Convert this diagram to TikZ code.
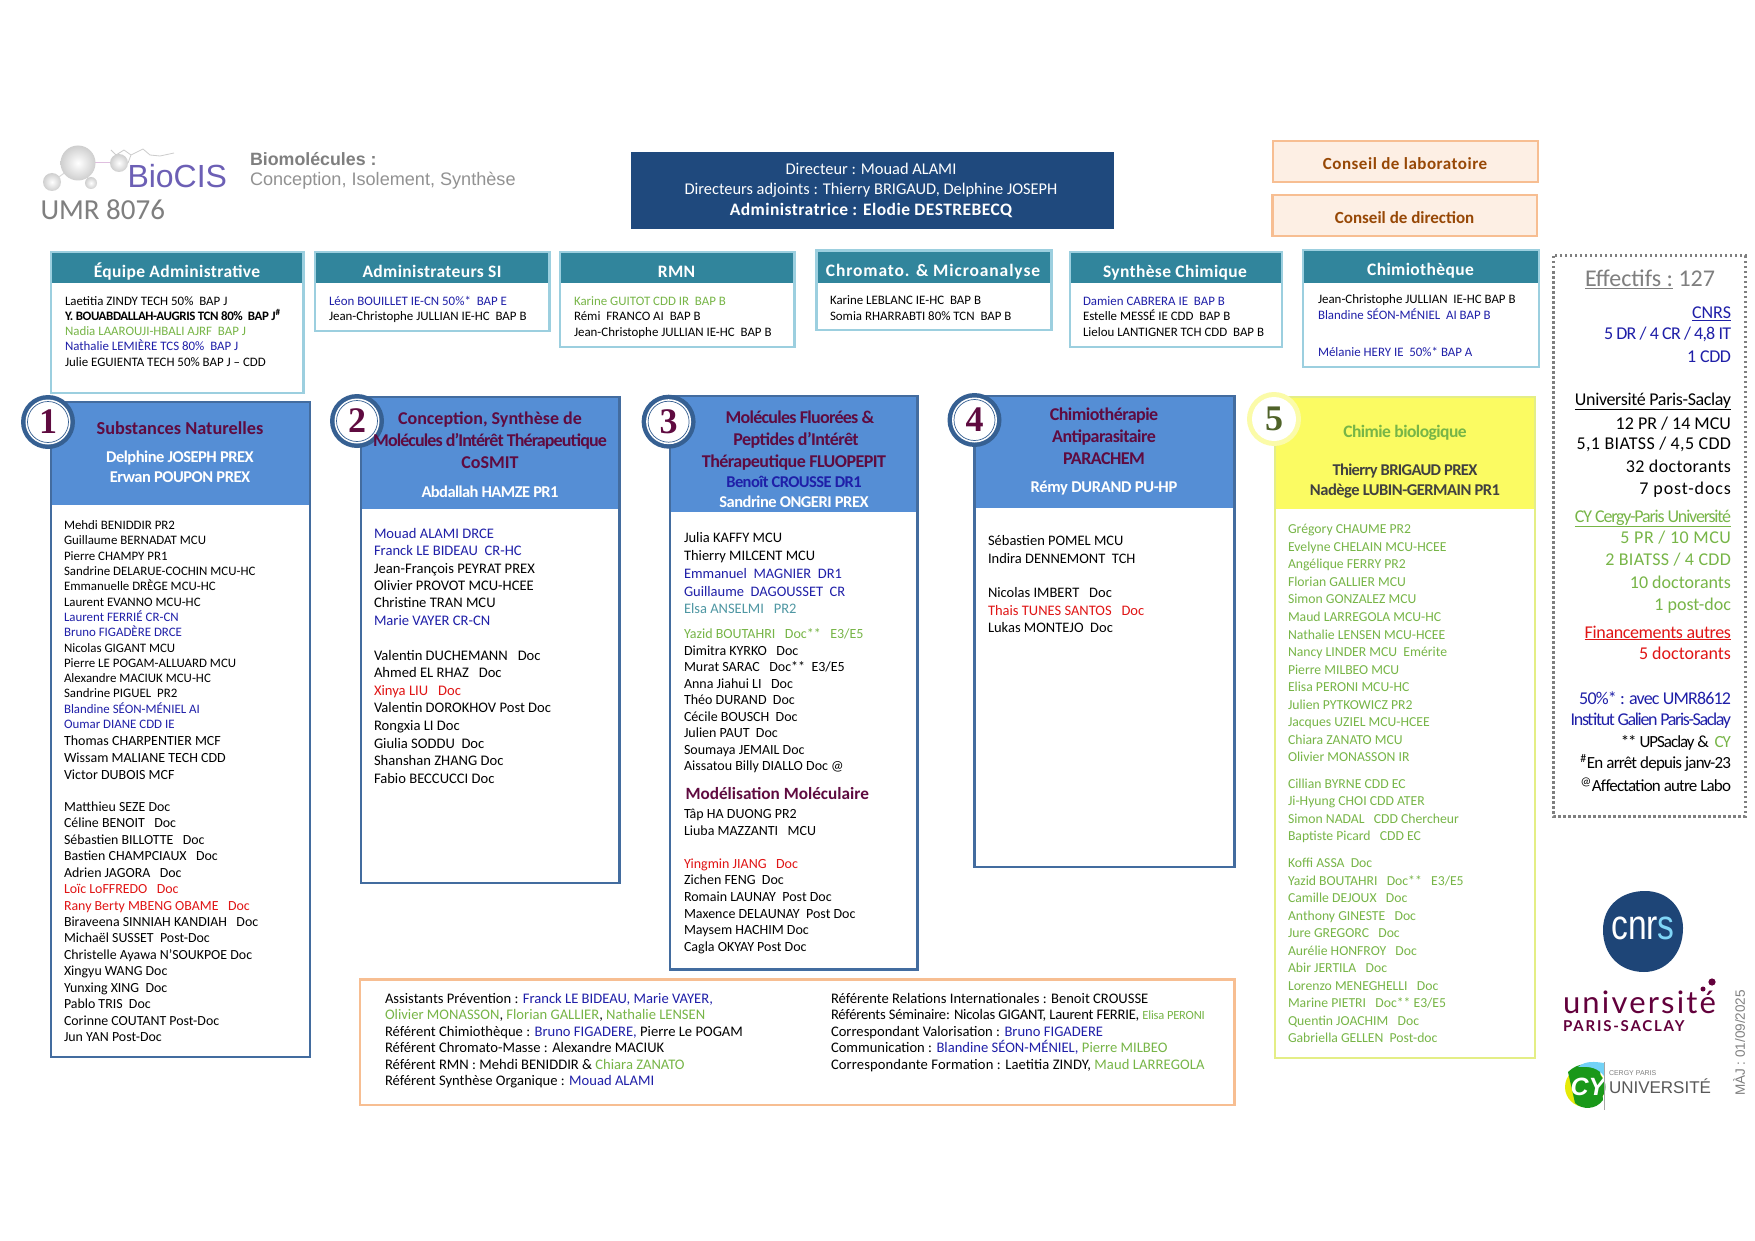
\documentclass[tikz,border=0pt]{standalone}
\usepackage{fontspec}
\setmainfont{Carlito}
\newfontfamily\numfont{Liberation Serif}
\newfontfamily\arialf{Liberation Sans}
\newfontfamily\latof{Lato}
\definecolor{cb}{HTML}{1F1FA8}
\definecolor{cg}{HTML}{77B547}
\definecolor{cr}{HTML}{E01515}
\definecolor{ct}{HTML}{4F97A3}
\definecolor{teal}{HTML}{31859C}
\definecolor{lteal}{HTML}{9CCFDF}
\definecolor{navy}{HTML}{1F497D}
\definecolor{orl}{HTML}{F7BE92}
\definecolor{orf}{HTML}{FDEFE4}
\definecolor{orb}{HTML}{974806}
\definecolor{hblue}{HTML}{558ED5}
\definecolor{bblue}{HTML}{436C9F}
\definecolor{ring}{HTML}{366092}
\definecolor{maroon}{HTML}{5F0B40}
\definecolor{yel}{HTML}{FBFB62}
\definecolor{yelb}{HTML}{E4EE86}
\definecolor{yelr}{HTML}{FBFBA8}
\definecolor{gr}{HTML}{7F7F7F}
\definecolor{ups}{HTML}{63003C}
\definecolor{bioc}{HTML}{6C5FB5}
\definecolor{five}{HTML}{4F6228}
\newcommand\fs[1]{\fontsize{#1}{#1}\selectfont}
\newcommand\ls[1]{\addfontfeatures{LetterSpace=#1}}
\newcommand\cb[1]{\textcolor{cb}{#1}}
\newcommand\cg[1]{\textcolor{cg}{#1}}
\newcommand\cre[1]{\textcolor{cr}{#1}}
\newcounter{rowc}
\tikzset{x=1pt,y=-1pt,
 txt/.style={inner sep=0pt,outer sep=0pt,anchor=base west},
 txr/.style={inner sep=0pt,outer sep=0pt,anchor=base east},
 txc/.style={inner sep=0pt,outer sep=0pt,anchor=base},
 minibox/.style={draw=lteal,line width=2.6pt,fill=white},
 conseil/.style={draw=orl,line width=2.6pt,fill=orf},
 teambox/.style={draw=bblue,line width=2.6pt,fill=white},
 yelbox/.style={draw=yelb,line width=2.6pt,fill=white},
}
% x, y of first row centre, step, size, rows
\newcommand\rows[5]{\foreach \t [count=\i from 0] in {#5}{%
  \pgfmathsetmacro\yy{#2+#3*\i+0.39*#4}\stepcounter{rowc}%
  \node[txt,name=row\arabic{rowc},font=\fs{#4}] at (#1,\yy) {\t};}}
\newcommand\rrow[4][black]{\pgfmathsetmacro\yy{#2+0.35*#3}\stepcounter{rowc}%
  \node[txr,name=row\arabic{rowc},font=\fs{#3},text=#1] at (1731,\yy) {#4};}
\newcommand\crow[5][black]{\pgfmathsetmacro\yy{#3+0.33*#4}\stepcounter{rowc}%
  \node[txc,name=row\arabic{rowc},font=\fs{#4}\bfseries,text=#1] at (#2,\yy) {#5};}
% mini box: x1 y1 x2 y2 headerbottom, title, title cx, title cy
\newcommand\mini[8]{\draw[minibox] (#1,#2) rectangle (#3,#4);
  \fill[teal] (#1+1.3,#2+1.3) rectangle (#3-1.3,#5);
  \pgfmathsetmacro\yy{#8+0.39*17}\stepcounter{rowc}%
  \node[txc,name=row\arabic{rowc},text=white,font=\fs{17.5}\bfseries\ls{2}] at (#7,\yy) {#6};}
% team: x1 y1 x2 y2 headerbottom cx cy digit
\newcommand\team[8]{\draw[teambox] (#1,#2) rectangle (#3,#4);
  \fill[hblue] (#1+1.3,#2+1.3) rectangle (#3-1.3,#5);
  \fill[ring] (#6,#7) circle (27);
  \fill[white] (#6,#7) circle (22.5);
  \draw[ring,line width=.7pt] (#6,#7) circle (20.5);
  \stepcounter{rowc}\node[inner sep=0pt,name=row\arabic{rowc},text=maroon,font=\fs{36}\numfont\bfseries] at (#6,#7) {#8};}
\begin{document}
\begin{tikzpicture}
\useasboundingbox (0,0) rectangle (1755,1241);
\fill[white] (0,0) rectangle (1755,1241);
% ---- BioCIS logo
\draw[gray!30,line width=1pt] (52,182) -- (78,163) -- (91,183);
\draw[violet!25,line width=1pt] (78,163) -- (119,163);
\draw[gray!40,line width=.8pt] (111,150) -- (116,155) -- (124,150) -- (131,155) -- (128,163) (131,155) -- (143,149) -- (150,155) -- (160,156) -- (174,153);
\shade[inner color=white,outer color=gray!38] (78,163) circle (17.5);
\shade[inner color=white,outer color=gray!38] (52,182) circle (9);
\shade[inner color=white,outer color=gray!38] (91,183) circle (6);
\shade[inner color=white,outer color=gray!38] (119,163) circle (9);
\node[txt,name=biocis,font=\fs{32}\arialf,text=bioc] at (127.5,188) {BioCIS};
\node[txt,name=biomol,font=\fs{17.8}\arialf\bfseries,text=gr] at (250,166) {Biomolécules :};
\node[txt,name=concep,font=\fs{18.1}\arialf,text=gr!85] at (250,186) {Conception, Isolement, Synthèse};
\node[txt,name=umr,font=\fs{29},text=gr] at (40.5,220) {UMR 8076};
% ---- Direction
\fill[navy] (631,152) rectangle (1114,229);
\crow[white]{871}{169}{16.4}{\mdseries Directeur : Mouad ALAMI}
\crow[white]{871}{189}{16.4}{\mdseries Directeurs adjoints : Thierry BRIGAUD, Delphine JOSEPH}
\crow[white]{871}{209.5}{17.5}{\ls{2.5}Administratrice : Elodie DESTREBECQ}
\draw[conseil] (1273,141) rectangle (1538,182);
\draw[conseil] (1272.5,195) rectangle (1537,236);
\crow[orb]{1405}{164}{17}{\ls{3}Conseil de laboratoire}
\crow[orb]{1404.6}{218}{17}{Conseil de direction}
% ---- Mini boxes
\mini{51}{252}{303.5}{393}{283}{Équipe Administrative}{177}{270.5}
\rows{65}{300}{15.25}{12.9}{Laetitia ZINDY TECH 50\%~~BAP J,
 \textbf{\ls{-3}Y. BOUABDALLAH-AUGRIS TCN 80\%~~BAP J\textsuperscript{\#}},
 \cg{Nadia LAAROUJI-HBALI AJRF~~BAP J},
 \cb{Nathalie LEMIÈRE TCS 80\%~~BAP J},
 Julie EGUIENTA TECH 50\% BAP J – CDD}
\mini{315}{252}{549.5}{331}{283}{Administrateurs SI}{432}{270.5}
\rows{329}{300}{15.3}{12.9}{\cb{Léon BOUILLET IE-CN 50\%*~~BAP E},
 Jean-Christophe JULLIAN IE-HC~~BAP B}
\mini{560}{252}{794.5}{347}{283}{RMN}{676.5}{270.5}
\rows{574}{300}{15.5}{12.9}{\cg{Karine GUITOT CDD IR~~BAP B},
 Rémi~~FRANCO AI~~BAP B,
 Jean-Christophe JULLIAN IE-HC~~BAP B}
\mini{816.5}{250.5}{1051.5}{330}{283}{\ls{5}Chromato. \& Microanalyse}{933}{269.5}
\rows{830}{299}{16}{12.9}{Karine LEBLANC IE-HC~~BAP B,
 Somia RHARRABTI 80\% TCN~~BAP B}
\mini{1070}{252}{1282}{347}{283}{Synthèse Chimique}{1175}{270.5}
\rows{1083}{300}{15.5}{12.9}{\cb{Damien CABRERA IE~~BAP B},
 Estelle MESSÉ IE CDD~~BAP B,
 Lielou LANTIGNER TCH CDD~~BAP B}
\mini{1303}{250}{1539}{367}{283}{Chimiothèque}{1420.5}{268.5}
\rows{1318}{298}{16}{12.9}{Jean-Christophe JULLIAN~~IE-HC BAP B,
 \cb{Blandine SÉON-MÉNIEL~~AI BAP B}}
\rows{1318}{351}{16}{12.9}{\cb{Mélanie HERY IE~~50\%* BAP A}}
% ---- Team 1
\team{51}{402}{310}{1057}{505}{48}{422}{1}
\crow[maroon]{180}{428.5}{18.3}{Substances Naturelles}
\crow[white]{180}{457}{16.5}{\ls{-3}Delphine JOSEPH PREX}
\crow[white]{180}{477}{16.5}{\ls{-3}Erwan POUPON PREX}
\rows{64}{524.5}{15.31}{12.9}{Mehdi BENIDDIR PR2,Guillaume BERNADAT MCU,Pierre CHAMPY PR1,Sandrine DELARUE-COCHIN MCU-HC,Emmanuelle DRÈGE MCU-HC,Laurent EVANNO MCU-HC,\cb{Laurent FERRIÉ CR-CN},\cb{Bruno FIGADÈRE DRCE},Nicolas GIGANT MCU,Pierre LE POGAM-ALLUARD MCU,Alexandre MACIUK MCU-HC,Sandrine PIGUEL~~PR2,\cb{Blandine SÉON-MÉNIEL AI},\cb{Oumar DIANE CDD IE}}
\rows{64}{740.2}{16.7}{14}{Thomas CHARPENTIER MCF,Wissam MALIANE TECH CDD,Victor DUBOIS MCF}
\rows{64}{806}{16.43}{13.9}{Matthieu SEZE Doc,Céline BENOIT~~~Doc,Sébastien BILLOTTE~~~Doc,Bastien CHAMPCIAUX~~~Doc,Adrien JAGORA~~~Doc,\cre{Loïc LoFFREDO~~~Doc},\cre{Rany Berty MBENG OBAME~~~Doc},Biraveena SINNIAH KANDIAH~~~Doc,Michaël SUSSET~~Post-Doc,Christelle Ayawa N'SOUKPOE Doc,Xingyu WANG Doc,Yunxing XING~~Doc,Pablo TRIS~~Doc,Corinne COUTANT Post-Doc,Jun YAN Post-Doc}
% ---- Team 2
\team{361}{397}{619.5}{883}{509}{357}{421}{2}
\crow[maroon]{490}{419}{18}{Conception, Synthèse de}
\crow[maroon]{490}{440.7}{18}{\ls{-5}Molécules d’Intérêt Thérapeutique}
\crow[maroon]{490}{462.7}{18}{CoSMIT}
\crow[white]{490}{491.7}{16.5}{\ls{-3.5}Abdallah HAMZE PR1}
\rows{374}{532.7}{17.33}{14.6}{\cb{Mouad ALAMI DRCE},\cb{Franck LE BIDEAU~~CR-HC},Jean-François PEYRAT PREX,Olivier PROVOT MCU-HCEE,Christine TRAN MCU,\cb{Marie VAYER CR-CN}}
\rows{374}{654.3}{17.6}{14.6}{Valentin DUCHEMANN~~~Doc,Ahmed EL RHAZ~~~Doc,\cre{Xinya LIU~~~Doc},Valentin DOROKHOV Post Doc,Rongxia LI Doc,Giulia SODDU~~Doc,Shanshan ZHANG Doc,Fabio BECCUCCI Doc}
% ---- Team 3
\team{670}{396}{917.5}{969.5}{511.5}{668.6}{421.7}{3}
\crow[maroon]{800}{417.7}{18}{\ls{-4}Molécules Fluorées \&}
\crow[maroon]{796}{439.7}{18}{\ls{-3}Peptides d’Intérêt}
\crow[maroon]{794}{461.7}{18}{\ls{-3}Thérapeutique FLUOPEPIT}
\crow[cb]{794}{481.7}{16.5}{\ls{-3.5}Benoît CROUSSE DR1}
\crow[white]{794}{501.7}{16.5}{\ls{-3}Sandrine ONGERI PREX}
\rows{684}{537.3}{17.75}{14.5}{Julia KAFFY MCU,Thierry MILCENT MCU,\cb{Emmanuel~~MAGNIER~~DR1},\cb{Guillaume~~DAGOUSSET~~CR},\textcolor{ct}{Elsa ANSELMI~~~PR2}}
\rows{684}{633.3}{16.5}{14}{\cg{Yazid BOUTAHRI~~~Doc**~~~E3/E5},Dimitra KYRKO~~~Doc,Murat SARAC~~~Doc**~~E3/E5,Anna Jiahui LI~~~Doc,Théo DURAND~~Doc,Cécile BOUSCH~~Doc,Julien PAUT~~Doc,Soumaya JEMAIL Doc,Aissatou Billy DIALLO Doc @}
\stepcounter{rowc}\node[txt,name=modmol,font=\fs{17.2}\bfseries,text=maroon] at (685.5,799) {Modélisation Moléculaire};
\rows{684}{813.5}{16.7}{14}{Tâp HA DUONG PR2,Liuba MAZZANTI~~~MCU}
\rows{684}{862.7}{16.7}{14}{\cre{Yingmin JIANG~~~Doc},Zichen FENG~~Doc,Romain LAUNAY~~Post Doc,Maxence DELAUNAY~~Post Doc,Maysem HACHIM Doc,Cagla OKYAY Post Doc}
% ---- Team 4
\team{974.5}{396}{1234.5}{867}{508}{974.5}{420}{4}
\crow[maroon]{1104}{414.7}{18}{\ls{-3}Chimiothérapie}
\crow[maroon]{1104}{437}{18}{\ls{-3}Antiparasitaire}
\crow[maroon]{1104}{458.7}{18}{\ls{-3}PARACHEM}
\crow[white]{1104}{486.7}{16.5}{\ls{-2}Rémy DURAND PU-HP}
\rows{988}{540.3}{17.4}{14.5}{Sébastien POMEL MCU,Indira DENNEMONT~~TCH}
\rows{988}{592.3}{17.5}{14.5}{Nicolas IMBERT~~~Doc,\cre{Thais TUNES SANTOS~~~Doc},Lukas MONTEJO~~Doc}
% ---- Team 5
\draw[yelbox] (1275,397) rectangle (1535,1058);
\fill[yel] (1276.3,398.3) rectangle (1533.7,509);
\fill[yelr] (1274,419) circle (27);
\fill[white] (1274,419) circle (22);
\node[inner sep=0pt,name=digit5,text=five,font=\fs{36}\numfont\bfseries] at (1274,419) {5};
\crow[cg]{1405}{431.7}{17.5}{\ls{-3}Chimie biologique}
\crow[black!75]{1405}{470.3}{16.5}{\ls{-4}Thierry BRIGAUD PREX}
\crow[black!75]{1405}{490.3}{16.5}{\ls{-3}Nadège LUBIN-GERMAIN PR1}
\begin{scope}[text=cg]
\rows{1288}{528.3}{17.56}{13.7}{Grégory CHAUME PR2,Evelyne CHELAIN MCU-HCEE,Angélique FERRY PR2,Florian GALLIER MCU,Simon GONZALEZ MCU,Maud LARREGOLA MCU-HC,Nathalie LENSEN MCU-HCEE,Nancy LINDER MCU~~Emérite,Pierre MILBEO MCU,Elisa PERONI MCU-HC,Julien PYTKOWICZ PR2,Jacques UZIEL MCU-HCEE,Chiara ZANATO MCU,Olivier MONASSON IR}
\rows{1288}{783.3}{17.3}{13.7}{Cillian BYRNE CDD EC,Ji-Hyung CHOI CDD ATER,Simon NADAL~~~CDD Chercheur,Baptiste Picard~~~CDD EC}
\rows{1288}{862.3}{17.5}{13.7}{Koffi ASSA~~Doc,Yazid BOUTAHRI~~~Doc**~~~E3/E5,Camille DEJOUX~~~Doc,Anthony GINESTE~~~Doc,Jure GREGORC~~~Doc,Aurélie HONFROY~~~Doc,Abir JERTILA~~~Doc,Lorenzo MENEGHELLI~~~Doc,Marine PIETRI~~~Doc** E3/E5,Quentin JOACHIM~~~Doc,Gabriella GELLEN~~Post-doc}
\end{scope}
% ---- Bottom box
\draw[draw=orl,line width=2.6pt] (360,979.5) rectangle (1234.5,1105);
\rows{385}{997.7}{16.4}{14.6}{Assistants Prévention : \cb{Franck LE BIDEAU, Marie VAYER,},\cg{Olivier MONASSON}{, }\cg{Florian GALLIER}{, }\cg{Nathalie LENSEN},Référent Chimiothèque : \cb{Bruno FIGADERE,} Pierre Le POGAM,Référent Chromato-Masse : Alexandre MACIUK,Référent RMN : Mehdi BENIDDIR \& \cg{Chiara ZANATO},Référent Synthèse Organique : \cb{Mouad ALAMI}}
\rows{831}{997.7}{16.4}{14.6}{Référente Relations Internationales : Benoit CROUSSE,\ls{-1.5}Référents Séminaire: Nicolas GIGANT{, }Laurent FERRIE{, }\cg{\fs{12.5}Elisa PERONI},Correspondant Valorisation : \cb{Bruno FIGADERE},Communication : \cb{Blandine SÉON-MÉNIEL,} \cg{Pierre MILBEO},\ls{.7}Correspondante Formation : Laetitia ZINDY{, }\cg{Maud LARREGOLA}}
% ---- Effectifs
\draw[gr,line width=3pt,dash pattern=on 2.5pt off 2.5pt] (1553,256) rectangle (1745,816);
\stepcounter{rowc}\node[txt,name=effectifs,font=\fs{24},text=gr] at (1585,287) {\underline{Effectifs :} 127};
\rrow[cb]{312}{18}{\underline{CNRS}}
\rrow[cb]{333}{18}{\ls{-4.6}5 DR / 4 CR / 4,8 IT}
\rrow[cb]{356}{18}{\ls{-2}1 CDD}
\rrow{399}{18}{\ls{-2}\underline{Université Paris-Saclay}}
\rrow{423}{18}{12 PR / 14 MCU}
\rrow{443}{18}{\ls{2}5,1 BIATSS / 4,5 CDD}
\rrow{465.7}{18}{\ls{2}32 doctorants}
\rrow{487.7}{18}{\ls{5}7 post-docs}
\rrow[cg]{515.7}{18}{\ls{-6.5}\underline{CY Cergy-Paris Université}}
\rrow[cg]{537}{18}{\ls{3}5 PR / 10 MCU}
\rrow[cg]{559}{18}{\ls{2}2 BIATSS / 4 CDD}
\rrow[cg]{581.7}{18}{10 doctorants}
\rrow[cg]{603.7}{18}{1 post-doc}
\rrow[cr]{631.7}{18}{\ls{-2}\underline{Financements autres}}
\rrow[cr]{653}{18}{5 doctorants}
\rrow[cb]{697.7}{18}{\ls{-4.6}50\%* : avec UMR8612}
\rrow[cb]{719}{18}{\ls{-7.5}Institut Galien Paris-Saclay}
\rrow{741.7}{17}{\ls{-6}** UPSaclay \&~~\cg{CY}}
\rrow{763}{17}{\ls{-4.6}\textsuperscript{\#}En arrêt depuis janv-23}
\rrow{785.7}{17}{\ls{-5}\textsuperscript{@}Affectation autre Labo}
% ---- CNRS logo
\fill[navy!95!black] (1603,930) .. controls (1603,905) and (1622,891) .. (1645,891) .. controls (1668,891) and (1683,908) .. (1683,928) .. controls (1683,955) and (1665,972) .. (1644,972) .. controls (1620,972) and (1603,955) .. (1603,930) -- cycle;
\node[inner sep=0pt,name=cnrs,font=\fs{42}\arialf] at (1643,928) {\scalebox{0.8}[1]{\textcolor{white}{cnr}\textcolor{cyan!50!white}{s}}};
% ---- Université Paris-Saclay
\fill[ups] (1712,982) circle (3.6);
\fill[ups] (1703,989) circle (2.5);
\node[txt,name=upsa,font=\fs{31}\latof\ls{7},text=ups] at (1563,1013.5) {université};
\node[txt,name=upsb,font=\fs{15}\latof\bfseries\ls{12},text=ups] at (1563,1031) {PARIS-SACLAY};
% ---- CY logo
\fill[yellow!90!green] (1585,1087) circle (20);
\fill[green!55!black!90] (1590,1087) circle (15.5);
\fill[green!55!black!90] (1568,1072) .. controls (1578,1062) and (1592,1062) .. (1600,1070) -- (1603,1100) .. controls (1596,1110) and (1582,1110) .. (1575,1103) -- cycle;
\fill[cyan!55] (1578,1067) .. controls (1586,1060) and (1596,1062) .. (1604,1063) -- (1604,1076) .. controls (1598,1068) and (1590,1066) .. (1578,1067) -- cycle;
\node[inner sep=0pt,name=cylogo,font=\fs{25}\arialf\bfseries\itshape,text=white] at (1588,1087) {CY};
\draw[gray!70,line width=.6pt] (1604,1062) -- (1604,1110);
\node[txt,name=cergy,font=\fs{7}\arialf,text=gr] at (1609,1075) {CERGY PARIS};
\node[txt,name=univ,font=\fs{17}\arialf,text=black!65] at (1609,1093) {UNIVERSITÉ};
\node[inner sep=0pt,name=maj,font=\fs{13.5}\arialf,text=gr,rotate=90] at (1739,1043) {MÀJ : 01/09/2025};
\end{tikzpicture}
\end{document}
